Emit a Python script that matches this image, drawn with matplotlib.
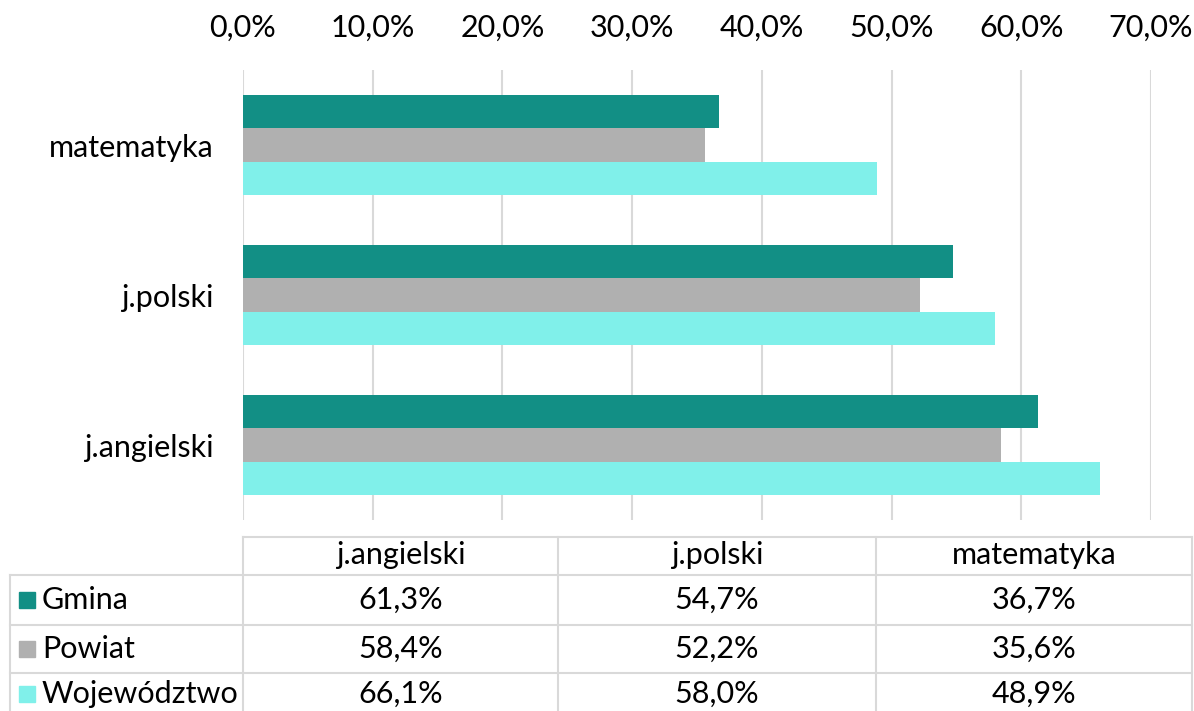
import matplotlib
matplotlib.use("Agg")
import matplotlib.pyplot as plt
from matplotlib.lines import Line2D
from matplotlib.patches import Rectangle

plt.rcParams['font.family'] = ['Lato', 'DejaVu Sans']

categories = ["j.angielski", "j.polski", "matematyka"]
series_names = ["Gmina", "Powiat", "Województwo"]
gmina = [61.3, 54.7, 36.7]
powiat = [58.4, 52.2, 35.6]
wojewodztwo = [66.1, 58.0, 48.9]
series_values = [gmina, powiat, wojewodztwo]
colors = ["#128F85", "#B0B0B0", "#80F0EA"]
xticks = [0, 10, 20, 30, 40, 50, 60, 70]

FS = 22
W, H = 1194, 711
fig = plt.figure(figsize=(W / 100, H / 100), dpi=100)

def fx(px):
    return px / W

def fy(py):
    return 1 - py / H

ax = fig.add_axes([fx(243), fy(520), fx(1151) - fx(243), fy(70) - fy(520)])
bh = 0.222
offsets = [bh, 0, -bh]
for vals, off, col in zip(series_values, offsets, colors):
    ax.barh([i + off for i in range(len(categories))], vals, height=bh, color=col,
            zorder=3, linewidth=0)
ax.set_xlim(0, 70)
ax.set_ylim(-0.5, 2.5)
ax.set_yticks(range(len(categories)))
ax.set_yticklabels(categories, fontsize=FS)
ax.set_xticks(xticks)
ax.set_xticklabels([f"{t:.1f}%".replace('.', ',') for t in xticks], fontsize=FS)
ax.xaxis.tick_top()
ax.tick_params(axis='x', length=0, pad=20)
ax.tick_params(axis='y', length=0, pad=21)
ax.grid(axis='x', color='#D9D9D9', linewidth=1.5, zorder=0)
for s in ax.spines.values():
    s.set_visible(False)

# data table
lc = '#D9D9D9'
lw = 1.5
def hline(y, x0, x1):
    fig.add_artist(Line2D([fx(x0), fx(x1)], [fy(y), fy(y)], color=lc, linewidth=lw))
def vline(x, y0, y1):
    fig.add_artist(Line2D([fx(x), fx(x)], [fy(y0), fy(y1)], color=lc, linewidth=lw))

col_edges = [243, 558, 876, 1192]
row_edges = [575, 625, 673, 711]
row_centers = [600, 649, 694]
hline(537, 243, 1192)
for y in row_edges[:-1]:
    hline(y, 10, 1192)
for x in col_edges:
    vline(x, 537, 711)
vline(10, 575, 711)

for j, cat in enumerate(categories):
    cx = (col_edges[j] + col_edges[j + 1]) / 2
    fig.text(fx(cx), fy(555), cat, ha='center', va='center', fontsize=FS)

for i, (name, vals, col) in enumerate(zip(series_names, series_values, colors)):
    cy = row_centers[i]
    fig.add_artist(Rectangle((fx(19), fy(cy + 8)), fx(16), fy(0) - fy(16), color=col,
                             transform=fig.transFigure))
    fig.text(fx(42), fy(cy), name, ha='left', va='center', fontsize=FS)
    for j, v in enumerate(vals):
        cx = (col_edges[j] + col_edges[j + 1]) / 2
        fig.text(fx(cx), fy(cy), f"{v:.1f}%".replace('.', ','), ha='center', va='center',
                 fontsize=FS)

fig.savefig("out.png", dpi=100)
